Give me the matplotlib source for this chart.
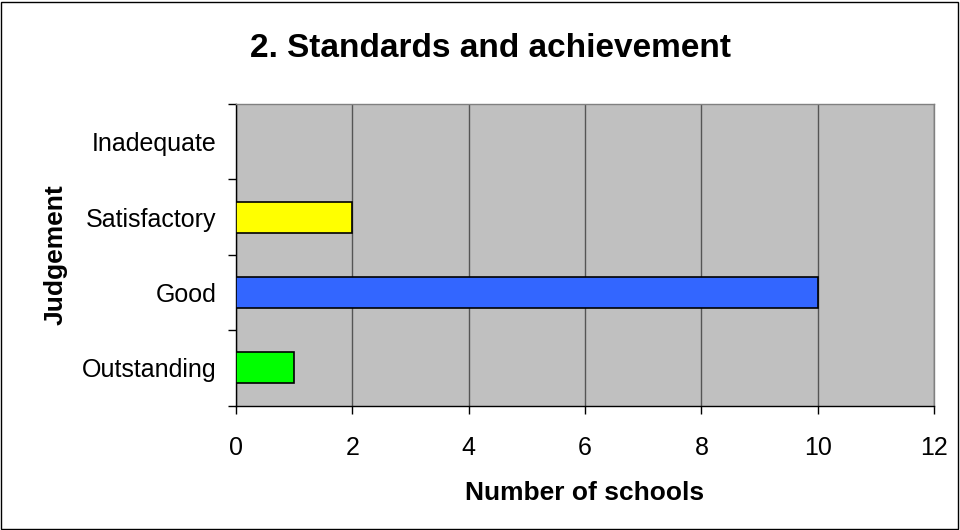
import matplotlib
matplotlib.use("Agg")
import matplotlib.pyplot as plt
from matplotlib.patches import Rectangle

plt.rcParams['font.family'] = ['Liberation Sans', 'DejaVu Sans']

categories = ["Outstanding", "Good", "Satisfactory", "Inadequate"]
values = [1, 10, 2, 0]
colors = ["#00FF00", "#3366FF", "#FFFF00", "#FF0000"]
xticks = [0, 2, 4, 6, 8, 10, 12]

fig = plt.figure(figsize=(9.6, 5.3), dpi=100)
fig.patches.append(Rectangle((0.001, 0.001), 0.997, 0.996, transform=fig.transFigure,
                             fill=False, edgecolor="black", linewidth=1.0))
ax = fig.add_axes([0.2458, 0.2349, 0.7272, 0.5689])
ax.set_facecolor("#C0C0C0")

y = list(range(len(categories)))
ax.barh(y, values, height=0.41, color=colors, edgecolor="black", linewidth=1.2, zorder=3)

ax.set_xlim(0, 12)
ax.set_ylim(-0.5, len(categories) - 0.5)
ax.set_xticks(xticks)
ax.set_xticklabels([str(t) for t in xticks], fontsize=18)
ax.xaxis.grid(True, color="#555555", linewidth=1.0, zorder=1)
ax.set_axisbelow(True)

ax.set_yticks(y)
ax.set_yticklabels(categories, fontsize=18)
ax.tick_params(axis="y", which="major", length=0, pad=14)
ax.set_yticks([i - 0.5 for i in range(len(categories) + 1)], minor=True)
ax.tick_params(axis="y", which="minor", length=6, width=1, direction="out")
ax.tick_params(axis="x", which="major", length=6, width=1, direction="out", pad=16)

for s in ["top", "right"]:
    ax.spines[s].set_color("#808080")
    ax.spines[s].set_linewidth(1.0)
for s in ["left", "bottom"]:
    ax.spines[s].set_color("black")
    ax.spines[s].set_linewidth(1.0)

ax.set_xlabel("Number of schools", fontsize=19, fontweight="bold", labelpad=15)
ax.set_ylabel("Judgement", fontsize=19, fontweight="bold", labelpad=10)
fig.text(0.511, 0.908, "2. Standards and achievement", fontsize=24, fontweight="bold",
         ha="center", va="center")

fig.savefig("out.png", dpi=100)
